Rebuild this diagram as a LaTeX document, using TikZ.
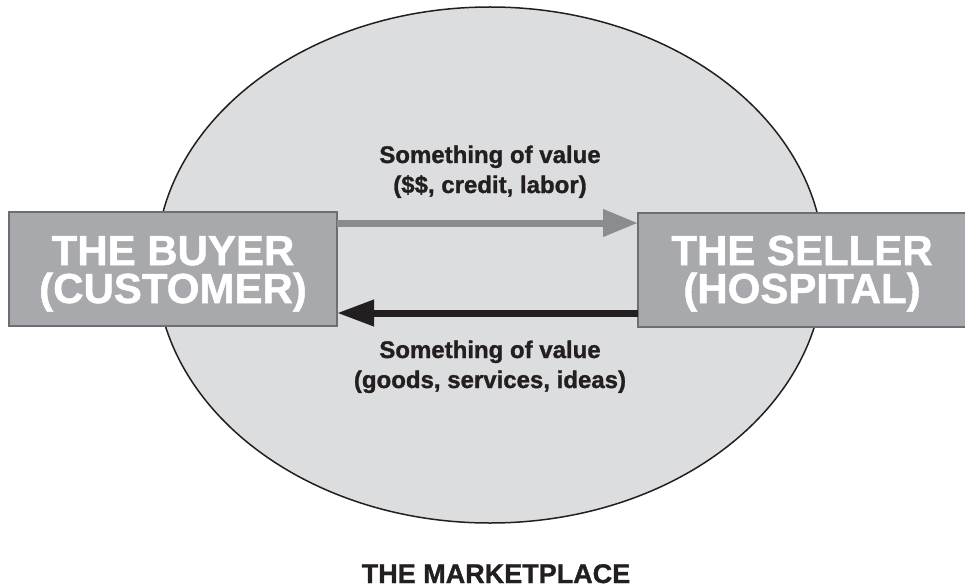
\documentclass[tikz,border=0pt]{standalone}
\usepackage{fontspec}
\setmainfont{Liberation Sans}
\newfontfamily\heavyfont{Liberation Sans}[BoldFont={Liberation Sans Bold}, BoldFeatures={FakeBold=1.2}]
\usetikzlibrary{arrows.meta}
\definecolor{marketfill}{HTML}{DCDDDE}
\definecolor{boxfill}{HTML}{A7A9AC}
\definecolor{boxedge}{HTML}{6D6E71}
\definecolor{payarrow}{HTML}{8A8C8E}
\definecolor{ink}{HTML}{231F20}
\begin{document}
\begin{tikzpicture}[x=1pt,y=-1pt,
  party/.style={draw=boxedge, line width=2pt, fill=boxfill,
    minimum width=328pt, minimum height=114pt, inner sep=0pt, outer sep=0pt},
  partytext/.style={text=white, font=\heavyfont\bfseries\fontsize{42}{42}\selectfont,
    anchor=base, inner sep=0pt},
  flowtext/.style={text=ink, font=\heavyfont\bfseries\fontsize{24}{24}\selectfont,
    anchor=base, inner sep=0pt},
  flow/.style={line width=7pt}]
\useasboundingbox (0,0) rectangle (965,588);

% the marketplace
\draw[fill=marketfill, draw=ink, line width=1.5pt]
  (490,265) ellipse [x radius=334, y radius=258];

% the two parties
\node[party] (buyer) at (173,269) {};
\node[party] (seller) at (802,269.5) {};
\node[partytext] (buyer1) at (173,265) {THE BUYER};
\node[partytext] (buyer2) at (173,303) {(CUSTOMER)};
\node[partytext] (seller1) at (802,265) {THE SELLER};
\node[partytext] (seller2) at (802,303) {(HOSPITAL)};

% exchanges
\draw[flow, payarrow, -{Triangle[length=35pt,width=26pt]}]
  (buyer.east |- 0,223) -- (seller.west |- 0,223);
\draw[flow, ink, -{Triangle[length=37pt,width=25pt]}]
  (seller.west |- 0,313) -- (buyer.east |- 0,313);

\node[flowtext] (pay1) at (490,163) {Something of value};
\node[flowtext] (pay2) at (490,193) {(\$\$, credit, labor)};
\node[flowtext] (give1) at (490,358) {Something of value};
\node[flowtext] (give2) at (490,388) {(goods, services, ideas)};

\node[text=ink, font=\heavyfont\bfseries\fontsize{27}{27}\selectfont, anchor=base,
  inner sep=0pt] (market) at (496,583) {THE MARKETPLACE};
\end{tikzpicture}
\end{document}
